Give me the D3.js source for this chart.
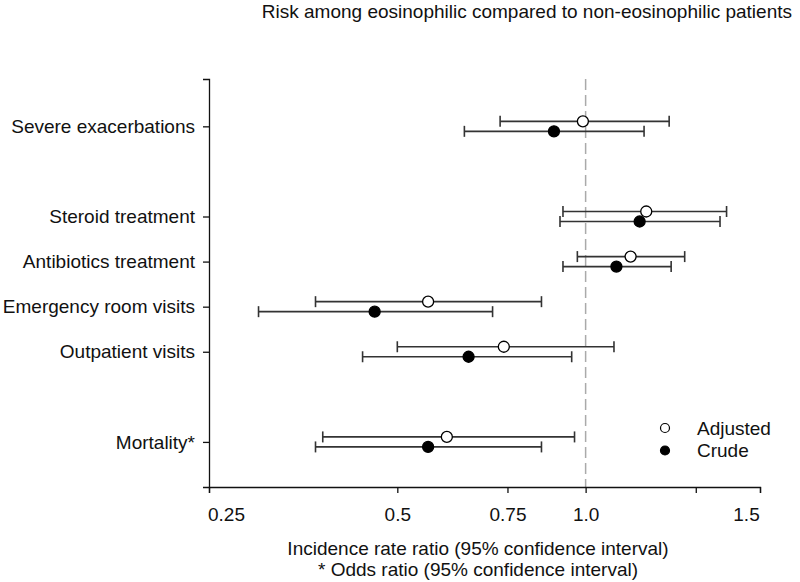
<!DOCTYPE html>
<html>
<head>
<meta charset="utf-8">
<script src="https://cdn.jsdelivr.net/npm/d3@7"></script>
<style>
  html, body { margin: 0; padding: 0; background: #fff; }
  svg { display: block; font-family: "Liberation Sans", Arial, sans-serif; }
</style>
</head>
<body>
<svg id="chart" width="800" height="582"></svg>
<script>
const categories = ["Severe exacerbations", "Steroid treatment", "Antibiotics treatment",
                    "Emergency room visits", "Outpatient visits", "Mortality*"];
const rowSlots = [0, 2, 3, 4, 5, 7];
const adjusted = [0.99, 1.25, 1.18, 0.56, 0.74, 0.60];
const adjustedLow = [0.73, 0.92, 0.97, 0.37, 0.50, 0.38];
const adjustedHigh = [1.36, 1.68, 1.44, 0.85, 1.11, 0.96];
const crude = [0.89, 1.22, 1.12, 0.46, 0.65, 0.56];
const crudeLow = [0.64, 0.91, 0.92, 0.30, 0.44, 0.37];
const crudeHigh = [1.24, 1.64, 1.37, 0.71, 0.95, 0.85];
const xTickValues = [0.25, 0.5, 0.75, 1.0, 1.5, 1.9];
const xTickLabels = ["0.25", "0.5", "0.75", "1.0", "", "1.5"];
const seriesNames = ["Adjusted", "Crude"];
const title = "Risk among eosinophilic compared to non-eosinophilic patients";
const xTitle1 = "Incidence rate ratio (95% confidence interval)";
const xTitle2 = "* Odds ratio (95% confidence interval)";
const referenceValue = 1.0;

const svg = d3.select("#chart");
const x = d3.scaleLog().domain([0.25, 1.9]).range([209, 760]);
const y = d3.scaleLinear().domain([-1.05, 8]).range([79, 487]);
const fontSize = 19;

// Title
svg.append("text").attr("x", 792).attr("y", 18).attr("text-anchor", "end")
  .attr("font-size", fontSize).attr("fill", "#111").text(title);

// Reference dashed line
svg.append("line")
  .attr("x1", x(referenceValue)).attr("x2", x(referenceValue))
  .attr("y1", y(-1.05)).attr("y2", y(8))
  .attr("stroke", "#aaa").attr("stroke-width", 1.5).attr("stroke-dasharray", "11,5");

// X axis
const xAxis = d3.axisBottom(x).tickValues(xTickValues)
  .tickFormat((d, i) => xTickLabels[i]).tickSizeOuter(0).tickSize(6).tickPadding(15);
const gx = svg.append("g").attr("transform", `translate(0,${y(8)})`).call(xAxis);
gx.select(".domain").attr("stroke", "#111").attr("stroke-width", 1.3);
gx.selectAll(".tick line").attr("stroke", "#111").attr("stroke-width", 1.3);
gx.selectAll(".tick text").attr("font-size", fontSize).attr("fill", "#111")
  .attr("font-family", "Liberation Sans, Arial, sans-serif")
  .attr("dx", (d, i) => i === xTickValues.length - 1 ? -14 : (i === 0 ? 17 : 0));

// Y axis
const yAxis = d3.axisLeft(y).tickValues(rowSlots)
  .tickFormat((d, i) => categories[i]).tickSizeOuter(0).tickSize(6).tickPadding(8);
const gy = svg.append("g").attr("transform", `translate(${x(0.25)},0)`).call(yAxis);
gy.select(".domain").attr("stroke", "#111").attr("stroke-width", 1.3);
gy.selectAll(".tick line").attr("stroke", "#111").attr("stroke-width", 1.3);
gy.selectAll(".tick text").attr("font-size", fontSize).attr("fill", "#111")
  .attr("font-family", "Liberation Sans, Arial, sans-serif");

// X axis titles
svg.append("text").attr("x", 478).attr("y", 555).attr("text-anchor", "middle")
  .attr("font-size", fontSize).attr("fill", "#111").text(xTitle1);
svg.append("text").attr("x", 478).attr("y", 576).attr("text-anchor", "middle")
  .attr("font-size", fontSize).attr("fill", "#111").text(xTitle2);

// Error bars and points
const series = [
  { name: seriesNames[0], est: adjusted, lo: adjustedLow, hi: adjustedHigh, off: -5, fill: "#fff" },
  { name: seriesNames[1], est: crude, lo: crudeLow, hi: crudeHigh, off: 5, fill: "#000" }
];
const capH = 5.5;
series.forEach(s => {
  const g = svg.append("g");
  categories.forEach((c, i) => {
    const yy = y(rowSlots[i]) + s.off;
    g.append("line").attr("x1", x(s.lo[i])).attr("x2", x(s.hi[i]))
      .attr("y1", yy).attr("y2", yy).attr("stroke", "#333").attr("stroke-width", 1.6);
    [s.lo[i], s.hi[i]].forEach(v => {
      g.append("line").attr("x1", x(v)).attr("x2", x(v))
        .attr("y1", yy - capH).attr("y2", yy + capH)
        .attr("stroke", "#333").attr("stroke-width", 1.6);
    });
    g.append("circle").attr("cx", x(s.est[i])).attr("cy", yy).attr("r", 5.5)
      .attr("fill", s.fill).attr("stroke", "#000").attr("stroke-width", 1.3);
  });
});

// Legend
series.forEach((s, i) => {
  const ly = 428 + i * 22.5;
  svg.append("circle").attr("cx", 665).attr("cy", ly).attr("r", 4.5)
    .attr("fill", s.fill).attr("stroke", "#000").attr("stroke-width", 1.2);
  svg.append("text").attr("x", 697).attr("y", ly).attr("dy", "0.35em")
    .attr("font-size", fontSize).attr("fill", "#111").text(s.name);
});
</script>
</body>
</html>
